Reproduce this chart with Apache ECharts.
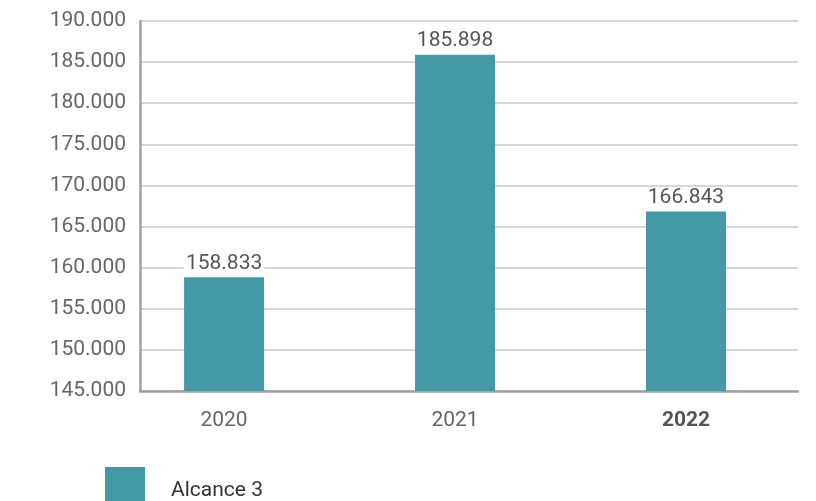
<!DOCTYPE html>
<html>
<head>
<meta charset="utf-8">
<script src="https://cdn.jsdelivr.net/npm/echarts@6/dist/echarts.min.js"></script>
<style>
  html, body { margin: 0; padding: 0; background: #fff; }
  #main { width: 816px; height: 501px; }
</style>
</head>
<body>
<div id="main"></div>
<script>
// datos
var years = ['2020', '2021', '2022'];
var alcance3 = [158833, 185898, 166843];
var yTicks = [145000, 150000, 155000, 160000, 165000, 170000, 175000, 180000, 185000, 190000];

function fmt(v) {
  return String(v).replace(/\B(?=(\d{3})+(?!\d))/g, '.');
}

var myChart = echarts.init(document.getElementById('main'));
var font = 'Roboto, "Liberation Sans", sans-serif';

var option = {
  animation: false,
  grid: { left: 140, right: 18, top: 21, bottom: 110 },
  legend: {
    data: ['Alcance 3'],
    left: 100,
    top: 462,
    itemWidth: 40,
    itemHeight: 36,
    icon: 'rect',
    formatter: function (name) { return '{a|' + name + '}'; },
    textStyle: {
      fontFamily: font, fontSize: 21, color: '#333',
      rich: { a: { fontFamily: font, fontSize: 21, color: '#333', padding: [12, 0, 0, 21] } }
    }
  },
  xAxis: {
    type: 'value',
    min: -0.364,
    max: 2.485,
    splitLine: { show: false },
    axisTick: { show: false },
    axisLine: { show: true, lineStyle: { color: '#a0a0a0', width: 2.5 } },
    axisLabel: {
      customValues: [0, 1, 2],
      margin: 19,
      fontFamily: font,
      fontSize: 21,
      color: '#666',
      formatter: function (v) {
        var y = years[Math.round(v)];
        return y === '2022' ? '{b|' + y + '}' : y;
      },
      rich: { b: { fontFamily: font, fontSize: 21, fontWeight: 'bold', color: '#555' } }
    }
  },
  yAxis: {
    type: 'value',
    min: yTicks[0],
    max: yTicks[yTicks.length - 1],
    interval: 5000,
    axisLine: { show: true, onZero: false, lineStyle: { color: '#a0a0a0', width: 2.5 } },
    axisTick: { show: false },
    splitLine: { lineStyle: { color: '#c8c8c8', width: 1.5 } },
    axisLabel: {
      margin: 14,
      fontFamily: font,
      fontSize: 21,
      color: '#666',
      formatter: fmt
    }
  },
  series: [{
    name: 'Alcance 3',
    type: 'bar',
    barWidth: 80,
    itemStyle: { color: '#4499a6' },
    data: alcance3.map(function (v, i) { return [i, v]; }),
    label: {
      show: true,
      position: 'top',
      distance: 3,
      fontFamily: font,
      fontSize: 21,
      color: '#555',
      backgroundColor: '#fff',
      padding: [0, 2],
      formatter: function (p) { return fmt(p.value[1]); }
    }
  }]
};

myChart.setOption(option);
</script>
</body>
</html>
